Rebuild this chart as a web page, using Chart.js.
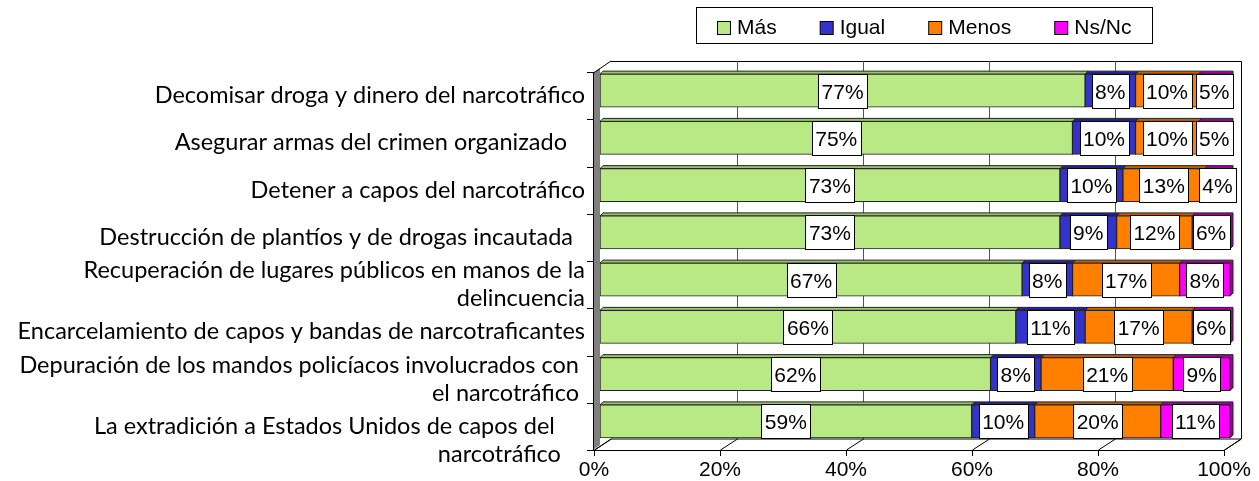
<!DOCTYPE html>
<html>
<head>
<meta charset="utf-8">
<script src="https://cdn.jsdelivr.net/npm/chart.js@4"></script>
<style>
html, body { margin: 0; padding: 0; background: #fff; }
#wrap { width: 1259px; height: 481px; position: relative; }
</style>
</head>
<body>
<div id="wrap"><canvas id="chart"></canvas></div>
<script>
const categories = [
  "Decomisar droga y dinero del narcotráfico",
  "Asegurar armas del crimen organizado   ",
  "Detener a capos del narcotráfico",
  "Destrucción de plantíos y de drogas incautada  ",
  ["Recuperación de lugares públicos en manos de la", "delincuencia"],
  "Encarcelamiento de capos y bandas de narcotraficantes",
  ["Depuración de los mandos policíacos involucrados con ", "el narcotráfico "],
  ["", "La extradición a Estados Unidos de capos del     ", "narcotráfico    "]
];
const seriesNames = ["Más", "Igual", "Menos", "Ns/Nc"];
const mas   = [77, 75, 73, 73, 67, 66, 62, 59];
const igual = [8, 10, 10, 9, 8, 11, 8, 10];
const menos = [10, 10, 13, 12, 17, 17, 21, 20];
const nsnc  = [5, 5, 4, 6, 8, 6, 9, 11];
const xTicks = [0, 20, 40, 60, 80, 100];

const fronts = ["#B9E985", "#3333CC", "#FF8000", "#FF00FF"];
const tops   = ["#97C468", "#232395", "#BF6000", "#A000A0"];

Chart.defaults.font.family = '"Liberation Sans", Arial, sans-serif';
Chart.defaults.color = "#000";

// 3D offsets (front plane / back wall, relative to the bar plane)
const FX = -6, FY = 5, BX = 11, BY = -6, D = 3;

const framePlugin = {
  id: "frame",
  beforeDatasetsDraw(chart) {
    const ctx = chart.ctx, a = chart.chartArea;
    const xs = chart.scales.x, ys = chart.scales.y;
    const L = a.left, R = a.right, T = a.top, B = a.bottom;
    ctx.save();
    ctx.lineWidth = 1;
    // back wall
    ctx.strokeStyle = "#000";
    ctx.beginPath();
    ctx.moveTo(L + BX, T + BY + 0.5); ctx.lineTo(R + BX + 0.5, T + BY + 0.5);
    ctx.lineTo(R + BX + 0.5, B + BY);
    ctx.stroke();
    ctx.strokeStyle = "#555";
    xTicks.slice(1, -1).forEach(v => {
      const px = Math.round(xs.getPixelForValue(v) + BX) + 0.5;
      ctx.beginPath(); ctx.moveTo(px, T + BY); ctx.lineTo(px, B + BY); ctx.stroke();
    });
    // floor
    ctx.strokeStyle = "#000";
    ctx.fillStyle = "#fff";
    ctx.beginPath();
    ctx.moveTo(L + FX, B + FY + 0.5); ctx.lineTo(R + FX, B + FY + 0.5);
    ctx.lineTo(R + BX, B + BY); ctx.lineTo(L + BX, B + BY);
    ctx.closePath(); ctx.fill(); ctx.stroke();
    xTicks.forEach(v => {
      const px = Math.round(xs.getPixelForValue(v)) + 0.5;
      ctx.beginPath(); ctx.moveTo(px + FX, B + FY); ctx.lineTo(px + BX, B + BY); ctx.stroke();
      ctx.beginPath(); ctx.moveTo(px + FX, B + FY); ctx.lineTo(px + FX, B + FY + 6); ctx.stroke();
    });
    // left wall
    ctx.fillStyle = "#808080";
    ctx.beginPath();
    ctx.moveTo(L + FX - 1, T + FY + 1); ctx.lineTo(L, T + 1);
    ctx.lineTo(L, B); ctx.lineTo(L + FX - 1, B + FY);
    ctx.closePath(); ctx.fill();
    ctx.beginPath();
    ctx.moveTo(L + FX - 0.5, B + FY); ctx.lineTo(L + FX - 0.5, T + FY + 1);
    ctx.lineTo(L + BX, T + BY); ctx.stroke();
    // category tick marks on the front plane
    const band = ys.getPixelForValue(1) - ys.getPixelForValue(0);
    for (let i = 0; i <= categories.length; i++) {
      const py = Math.round(ys.getPixelForValue(0) - band / 2 + i * band + FY) + 0.5;
      ctx.beginPath(); ctx.moveTo(L + FX - 7, py); ctx.lineTo(L + FX, py); ctx.stroke();
    }
    // top and right faces of the bars
    chart.data.datasets.forEach((ds, di) => {
      chart.getDatasetMeta(di).data.forEach(el => {
        const l = Math.min(el.base, el.x), r = Math.max(el.base, el.x);
        const t = el.y - el.height / 2, b = el.y + el.height / 2;
        ctx.fillStyle = tops[di];
        ctx.strokeStyle = "#222";
        ctx.beginPath();
        ctx.moveTo(l, t); ctx.lineTo(l + D, t - D); ctx.lineTo(r + D, t - D);
        ctx.lineTo(r + D, b - D); ctx.lineTo(r, b); ctx.lineTo(r, t);
        ctx.closePath(); ctx.fill(); ctx.stroke();
      });
    });
    ctx.restore();
  }
};

const boxLabelPlugin = {
  id: "boxLabels",
  afterDatasetsDraw(chart) {
    const ctx = chart.ctx;
    ctx.save();
    ctx.font = '21px "Liberation Sans", Arial, sans-serif';
    ctx.textAlign = "center";
    ctx.textBaseline = "alphabetic";
    ctx.lineWidth = 1;
    chart.data.datasets.forEach((ds, di) => {
      chart.getDatasetMeta(di).data.forEach((el, i) => {
        const txt = ds.data[i] + "%";
        const cx = (el.x + el.base) / 2, cy = el.y;
        const w = Math.round(ctx.measureText(txt).width + 7), h = 34;
        const bx = Math.round(cx - w / 2) + 0.5, by = Math.round(cy - h / 2) + 0.5;
        ctx.fillStyle = "#fff"; ctx.strokeStyle = "#000";
        ctx.fillRect(bx, by, w, h); ctx.strokeRect(bx, by, w, h);
        ctx.fillStyle = "#000";
        ctx.fillText(txt, cx, cy + 8);
      });
    });
    ctx.restore();
  }
};

const legendPlugin = {
  id: "boxLegend",
  afterDraw(chart) {
    const ctx = chart.ctx;
    ctx.save();
    ctx.lineWidth = 1;
    ctx.fillStyle = "#fff"; ctx.strokeStyle = "#000";
    ctx.fillRect(696, 7, 456, 36); ctx.strokeRect(696.5, 7.5, 456, 36);
    ctx.font = '21px "Liberation Sans", Arial, sans-serif';
    ctx.textBaseline = "alphabetic";
    let x = 717;
    chart.data.datasets.forEach(ds => {
      ctx.fillStyle = ds.backgroundColor;
      ctx.fillRect(x + 0.5, 21.5, 13, 13); ctx.strokeRect(x + 0.5, 21.5, 13, 13);
      ctx.fillStyle = "#000";
      ctx.fillText(ds.label, x + 20, 34);
      x += 20 + ctx.measureText(ds.label).width + 43;
    });
    ctx.restore();
  }
};

const values = [mas, igual, menos, nsnc];
const datasets = seriesNames.map((name, i) => ({
  label: name,
  data: values[i],
  backgroundColor: fronts[i],
  borderColor: "#222",
  borderWidth: 1,
  borderSkipped: false,
  barThickness: 33
}));

new Chart(document.getElementById("chart"), {
  type: "bar",
  data: { labels: categories, datasets: datasets },
  options: {
    indexAxis: "y",
    responsive: true,
    maintainAspectRatio: false,
    animation: false,
    layout: { padding: { left: 0, right: 29, top: 67, bottom: 0 } },
    plugins: { legend: { display: false }, tooltip: { enabled: false } },
    scales: {
      x: {
        stacked: true,
        min: 0,
        max: 100,
        afterBuildTicks: s => { s.ticks = xTicks.map(v => ({ value: v })); },
        afterFit: s => { s.height = 36; s.paddingLeft = 0; s.paddingRight = 0; },
        grid: { display: false, drawTicks: false },
        border: { display: false },
        ticks: {
          callback: v => v + "%",
          font: { size: 21 },
          padding: 13,
          labelOffset: -6,
          maxRotation: 0,
          autoSkip: false
        }
      },
      y: {
        stacked: true,
        afterFit: s => { s.width = 600; },
        grid: { display: false, drawTicks: false },
        border: { display: false },
        ticks: {
          font: { family: "Lato", size: 23.5, lineHeight: 1.19 },
          padding: 15,
          labelOffset: 5,
          autoSkip: false
        }
      }
    }
  },
  plugins: [framePlugin, boxLabelPlugin, legendPlugin]
});
</script>
</body>
</html>
